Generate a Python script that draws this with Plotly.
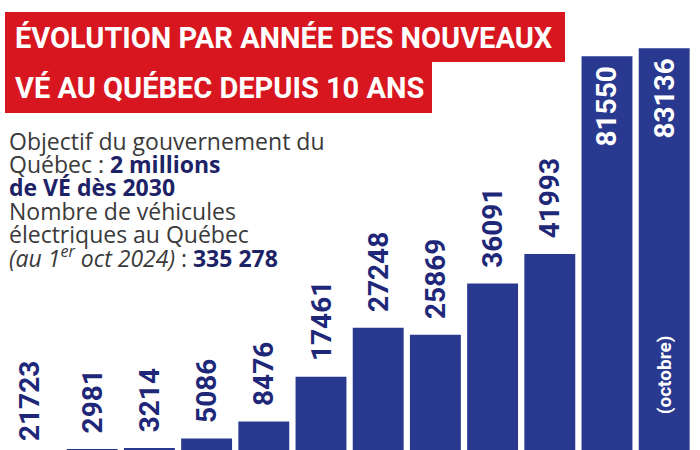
import plotly.graph_objects as go

years = list(range(2013, 2025))
values = [1723, 2981, 3214, 5086, 8476, 17461, 27248, 25869, 36091, 41993, 81550, 83136]
labels = ["21723", "2981", "3214", "5086", "8476", "17461", "27248", "25869", "36091", "41993", "81550", "83136"]
inside_flags = [False] * 10 + [True, True]

title_lines = ["ÉVOLUTION PAR ANNÉE DES NOUVEAUX", "VÉ AU QUÉBEC DEPUIS 10 ANS"]
note_lines = [
    "Objectif du gouvernement du",
    "Québec : <b><span style='color:#1d2266'>2 millions</span></b>",
    "<b><span style='color:#1d2266'>de VÉ dès 2030</span></b>",
    "Nombre de véhicules",
    "électriques au Québec",
    "<i>(au 1<sup>er</sup> oct 2024)</i> : <b><span style='color:#1d2266'>335 278</span></b>",
]
last_note = "(octobre)"

W, H = 700, 450
COND = "Roboto, Liberation Sans, sans-serif"
BAR_COLOR = "#2a3990"
NAVY = "#1f2878"
RED = "#d8161f"
LABEL_SIZE = 28

# y pixel of value 0 ~ 464, 0.005 px per unit -> range bottom/top
Y_RANGE = [2800, 92800]

texts = []
positions = []
for i, (lab, ins) in enumerate(zip(labels, inside_flags)):
    if values[i] < Y_RANGE[0]:
        texts.append("")
        positions.append("none")
    elif ins:
        texts.append("<b>" + lab + "</b>\u00a0")
        positions.append("inside")
    else:
        texts.append("\u00a0\u2009<b>" + lab + "</b>")
        positions.append("outside")

fig = go.Figure()
fig.add_trace(go.Bar(
    x=years, y=values, width=0.89,
    marker=dict(color=BAR_COLOR, line=dict(width=0)),
    text=texts, textposition=positions, textangle=-90,
    insidetextanchor="end", constraintext="none",
    outsidetextfont=dict(family=COND, size=LABEL_SIZE, color=NAVY),
    insidetextfont=dict(family=COND, size=LABEL_SIZE, color="white"),
    textfont=dict(family=COND, size=LABEL_SIZE),
    cliponaxis=False, hoverinfo="skip",
))

def px_x(p):
    return p / W

def px_y(p):
    return 1 - p / H

shapes = [
    dict(type="rect", xref="paper", yref="paper", x0=px_x(5), x1=px_x(565),
         y0=px_y(62), y1=px_y(12), fillcolor=RED, line=dict(width=0), layer="above"),
    dict(type="rect", xref="paper", yref="paper", x0=px_x(5), x1=px_x(432),
         y0=px_y(113), y1=px_y(61), fillcolor=RED, line=dict(width=0), layer="above"),
]

annotations = []
title_centers = [38, 88]
for line, cy in zip(title_lines, title_centers):
    annotations.append(dict(
        text="<b>" + line + "</b>", xref="paper", yref="paper",
        x=px_x(13), y=px_y(cy), xanchor="left", yanchor="middle",
        showarrow=False, font=dict(family=COND, size=29, color="white")))

note_centers = [141, 164, 187, 211, 234, 257]
for line, cy in zip(note_lines, note_centers):
    annotations.append(dict(
        text=line, xref="paper", yref="paper",
        x=px_x(7), y=px_y(cy), xanchor="left", yanchor="middle",
        showarrow=False, font=dict(family="Open Sans, sans-serif", size=23, color="#3a3a3a")))

# label of the first bar, whose bar lies below the visible area
annotations.append(dict(
    text="<b>" + labels[0] + "</b>", xref="x", yref="paper",
    x=years[0], y=px_y(443), xanchor="center", yanchor="bottom", xshift=-6,
    textangle=-90, showarrow=False,
    font=dict(family=COND, size=LABEL_SIZE, color=NAVY)))

annotations.append(dict(
    text="<b>" + last_note + "</b>", x=years[-1], y=17800, xref="x", yref="y",
    textangle=-90, showarrow=False, xanchor="center", yanchor="middle",
    font=dict(family=COND, size=19, color="white")))

fig.update_layout(
    width=W, height=H,
    margin=dict(l=0, r=0, t=0, b=0),
    paper_bgcolor="white", plot_bgcolor="white",
    showlegend=False,
    xaxis=dict(range=[years[0] - 0.612, years[0] + 11.626], visible=False, fixedrange=True),
    yaxis=dict(range=Y_RANGE, visible=False, fixedrange=True),
    shapes=shapes, annotations=annotations,
)

fig.write_html("out.html")
